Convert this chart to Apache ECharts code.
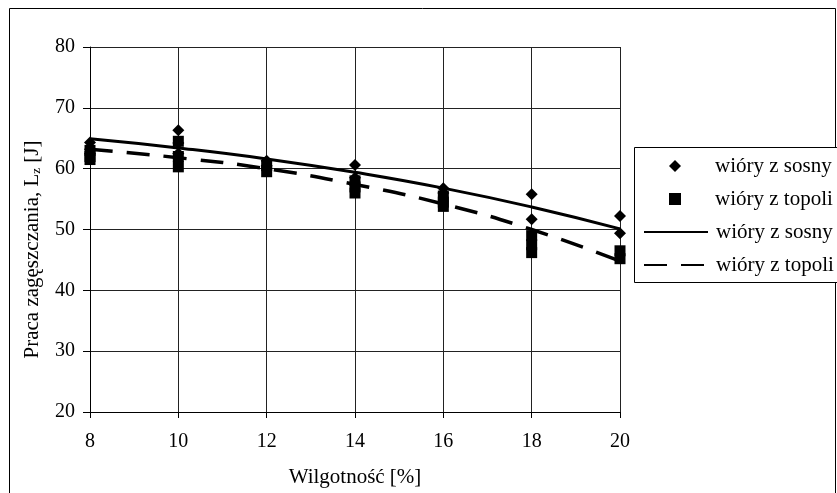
<!DOCTYPE html>
<html>
<head>
<meta charset="utf-8">
<script src="https://cdn.jsdelivr.net/npm/echarts@6/dist/echarts.min.js"></script>
<style>
html, body { margin: 0; padding: 0; background: #fff; }
#chart { width: 837px; height: 493px; }
</style>
</head>
<body>
<div id="chart"></div>
<script>
// wilgotnosc [%]
var xTicks = [8, 10, 12, 14, 16, 18, 20];
// pomiary - wiory z sosny
var sosnyX = [8, 8, 8, 10, 10, 10, 12, 12, 14, 14, 16, 16, 18, 18, 20, 20];
var sosnyY = [64.3, 63.2, 62.5, 66.3, 64.2, 62.5, 61.3, 60.5, 60.6, 58.5, 56.8, 56.0, 55.8, 51.7, 52.2, 49.4];
// pomiary - wiory z topoli
var topoliX = [8, 8, 8, 10, 10, 10, 12, 12, 14, 14, 14, 16, 16, 16, 18, 18, 18, 20, 20];
var topoliY = [63.0, 62.0, 61.5, 64.5, 62.0, 60.3, 60.5, 59.5, 58.0, 57.0, 56.0, 55.5, 54.5, 53.8, 49.0, 47.5, 46.2, 46.5, 45.2];
// linie trendu
var trendSosny = [64.9, 63.4, 61.6, 59.4, 56.8, 53.7, 50.1];
var trendTopoli = [63.2, 61.8, 60.0, 57.4, 54.2, 50.0, 44.8];

function pairs(xs, ys) {
    var out = [];
    for (var i = 0; i < xs.length; i++) out.push([xs[i], ys[i]]);
    return out;
}

var legendNames = {
    sosnyPts: 'wióry z sosny',
    topoliPts: 'wióry z topoli',
    sosnyLine: 'wióry z sosny',
    topoliLine: 'wióry z topoli'
};

var font = '"Liberation Serif", "Times New Roman", serif';

// one legend per entry, so marker and line samples can have their own widths
function legendEntry(name, icon, top, isLine) {
    var item = { name: name };
    if (icon) item.icon = icon;
    if (isLine) item.itemStyle = { color: 'rgba(0,0,0,0)', borderColor: 'rgba(0,0,0,0)', borderWidth: 0 };
    return {
        orient: 'vertical',
        left: isLine ? 643 : 669,
        top: top,
        padding: 0,
        itemWidth: isLine ? 64 : 12,
        itemHeight: 12,
        z: 5,
        selectedMode: false,
        data: [item],
        formatter: function (n) { return legendNames[n]; },
        textStyle: {
            fontFamily: font, fontSize: 21, color: '#000', lineHeight: 22,
            padding: [0, 0, 0, isLine ? 3 : 29]
        }
    };
}

var myChart = echarts.init(document.getElementById('chart'));
var option = {
    animation: false,
    backgroundColor: '#fff',
    textStyle: { fontFamily: font, color: '#000' },
    grid: { left: 90, right: 217, top: 47, bottom: 81 },
    graphic: [
        {
            type: 'rect', silent: true, z: -1,
            shape: { x: 9.5, y: 8.5, width: 826, height: 500 },
            style: { fill: null, stroke: '#000', lineWidth: 1 }
        },
        {
            type: 'rect', silent: true, z: 1,
            shape: { x: 634.5, y: 147.5, width: 240, height: 135 },
            style: { fill: '#fff', stroke: '#000', lineWidth: 1 }
        }
    ],
    legend: [
        legendEntry('sosnyPts', 'diamond', 155, false),
        legendEntry('topoliPts', 'rect', 188, false),
        legendEntry('sosnyLine', null, 221, true),
        legendEntry('topoliLine', null, 254, true)
    ],
    xAxis: {
        type: 'value',
        min: 8, max: 20, interval: 2,
        name: 'Wilgotność [%]',
        nameLocation: 'middle',
        nameGap: 55,
        nameTextStyle: { fontFamily: font, fontSize: 21, color: '#000' },
        axisLine: { onZero: false, lineStyle: { color: '#000', width: 1 } },
        axisTick: { show: true, length: 6, lineStyle: { color: '#000' } },
        axisLabel: { fontFamily: font, fontSize: 20, color: '#000', margin: 20 },
        splitLine: { show: true, lineStyle: { color: '#222', width: 1 } }
    },
    yAxis: {
        type: 'value',
        min: 20, max: 80, interval: 10,
        name: 'Praca zagęszczania, L{sub|z} [J]',
        nameLocation: 'middle',
        nameGap: 47,
        nameTextStyle: {
            fontFamily: font, fontSize: 21, color: '#000',
            padding: [0, 40, 0, 0],
            rich: { sub: { fontFamily: font, fontSize: 13, color: '#000', verticalAlign: 'bottom', padding: [8, 0, 0, 0] } }
        },
        axisLine: { show: true, onZero: false, lineStyle: { color: '#000', width: 1 } },
        axisTick: { show: true, length: 7, lineStyle: { color: '#000' } },
        axisLabel: { fontFamily: font, fontSize: 20, color: '#000', margin: 15 },
        splitLine: { show: true, lineStyle: { color: '#222', width: 1 } }
    },
    series: [
        {
            name: 'sosnyPts',
            type: 'scatter',
            symbol: 'diamond',
            symbolSize: 12,
            itemStyle: { color: '#000', opacity: 1 },
            z: 3,
            data: pairs(sosnyX, sosnyY)
        },
        {
            name: 'topoliPts',
            type: 'scatter',
            symbol: 'rect',
            symbolSize: 11,
            itemStyle: { color: '#000', opacity: 1 },
            z: 3,
            data: pairs(topoliX, topoliY)
        },
        {
            name: 'sosnyLine',
            type: 'line',
            smooth: true,
            showSymbol: false,
            symbol: 'none',
            color: '#000',
            lineStyle: { color: '#000', width: 3, type: 'solid' },
            z: 2,
            data: pairs(xTicks, trendSosny)
        },
        {
            name: 'topoliLine',
            type: 'line',
            smooth: true,
            showSymbol: false,
            symbol: 'none',
            color: '#000',
            lineStyle: { color: '#000', width: 3.5, type: [23, 14] },
            z: 2,
            data: pairs(xTicks, trendTopoli)
        }
    ]
};
myChart.setOption(option);
</script>
</body>
</html>
